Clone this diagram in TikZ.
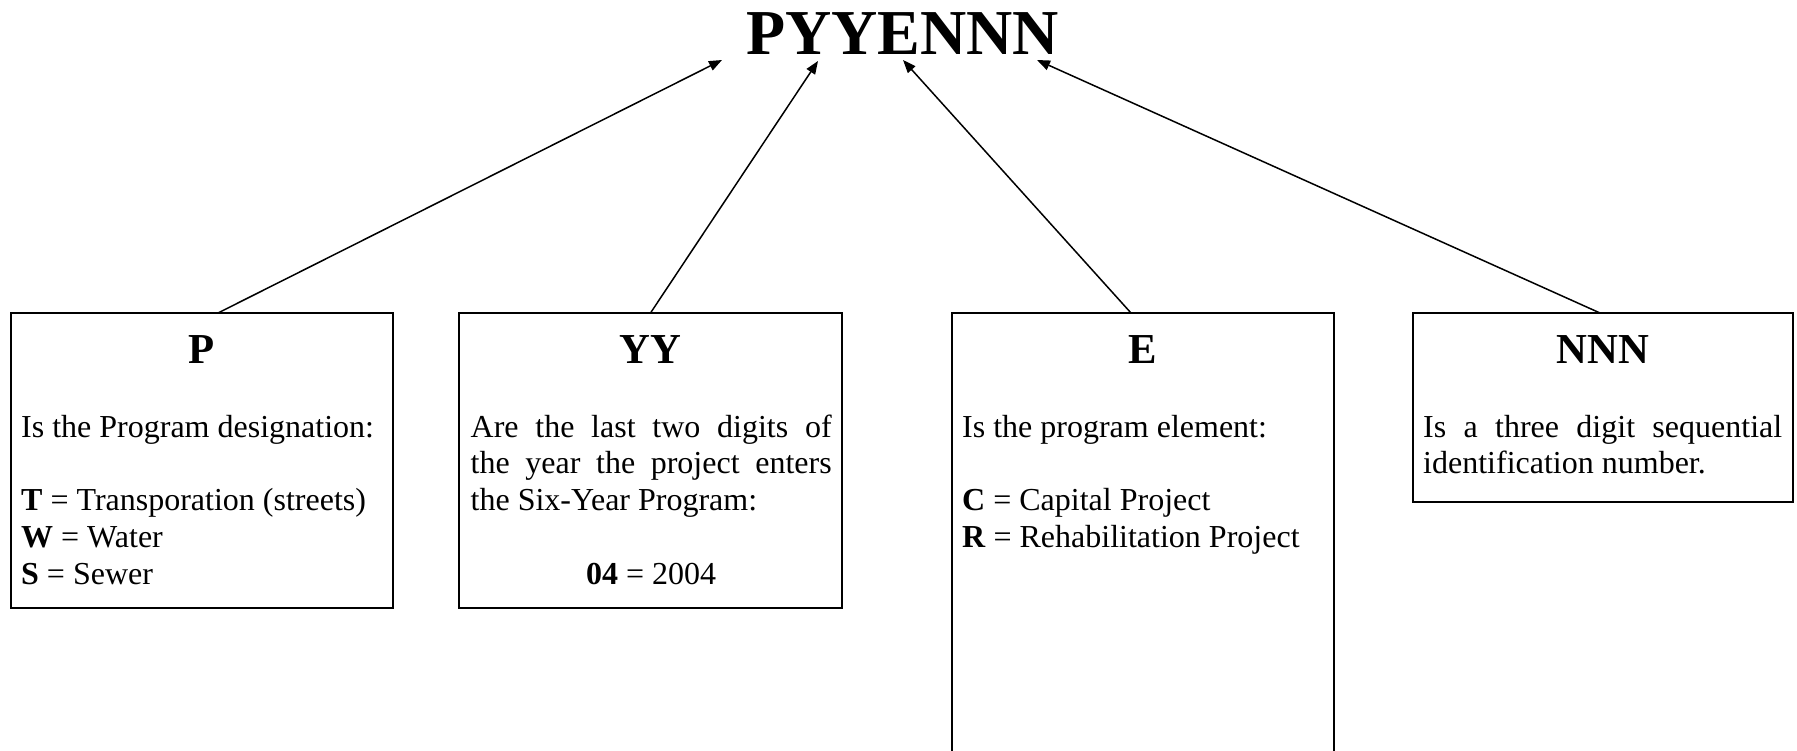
\documentclass[tikz,border=0pt]{standalone}
\usepackage{fontspec}
\setmainfont{Liberation Serif}
\usetikzlibrary{arrows.meta}
\begin{document}
\begin{tikzpicture}[x=1pt,y=-1pt,
  box/.style={draw, line width=2pt, anchor=north west, inner sep=0pt, outer sep=0pt},
  hd/.style={anchor=base, inner sep=0pt, font=\fontsize{42.7}{49}\selectfont\bfseries},
  body/.style={anchor=base west, inner sep=0pt, font=\fontsize{32}{36.8}\selectfont},
  arr/.style={-{Triangle[length=13pt,width=10pt]}, line width=1.5pt}]
\clip (0,0) rectangle (1797,751);
\fill[white] (0,0) rectangle (1797,751);

\node[anchor=base, inner sep=0pt, font=\fontsize{64}{74}\selectfont\bfseries] (title) at (902.5,55) {PYYENNN};

\node[box, minimum width=382pt, minimum height=295pt] (P) at (11,313) {};
\node[box, minimum width=383pt, minimum height=295pt] (YY) at (459,313) {};
\node[box, minimum width=382pt, minimum height=520pt] (E) at (952,313) {};
\node[box, minimum width=380pt, minimum height=189pt] (NNN) at (1413,313) {};

\node[hd] (hP) at (202,363) {P};
\node[hd] (hY) at (650.5,363) {YY};
\node[hd] (hE) at (1143,363) {E};
\node[hd] (hN) at (1603,363) {NNN};

\node[body] (tP) at (21,437) {\parbox[t]{360pt}{Is the Program designation:\par\vspace{36.8pt}\textbf{T} = Transporation (streets)\par\textbf{W} = Water\par\textbf{S} = Sewer}};
\node[body] (tY) at (470.5,437) {\parbox[t]{361pt}{Are the last two digits of\linebreak the year the project enters\linebreak the Six-Year Program:\par\vspace{36.8pt}\centering\textbf{04} = 2004\par}};
\node[body] (tE) at (962,437) {\parbox[t]{360pt}{Is the program element:\par\vspace{36.8pt}\textbf{C} = Capital Project\par\textbf{R} = Rehabilitation Project}};
\node[body] (tN) at (1423,437) {\parbox[t]{359pt}{Is a three digit sequential\linebreak identification number.}};

\coordinate (aP) at (722,60);
\coordinate (aY) at (818,61);
\coordinate (aE) at (903,60);
\coordinate (aN) at (1037,60);

\draw[arr] ([xshift=16pt]P.north) -- (aP);
\draw[arr] (YY.north) -- (aY);
\draw[arr] ([xshift=-12pt]E.north) -- (aE);
\draw[arr] ([xshift=-3pt]NNN.north) -- (aN);
\end{tikzpicture}
\end{document}
